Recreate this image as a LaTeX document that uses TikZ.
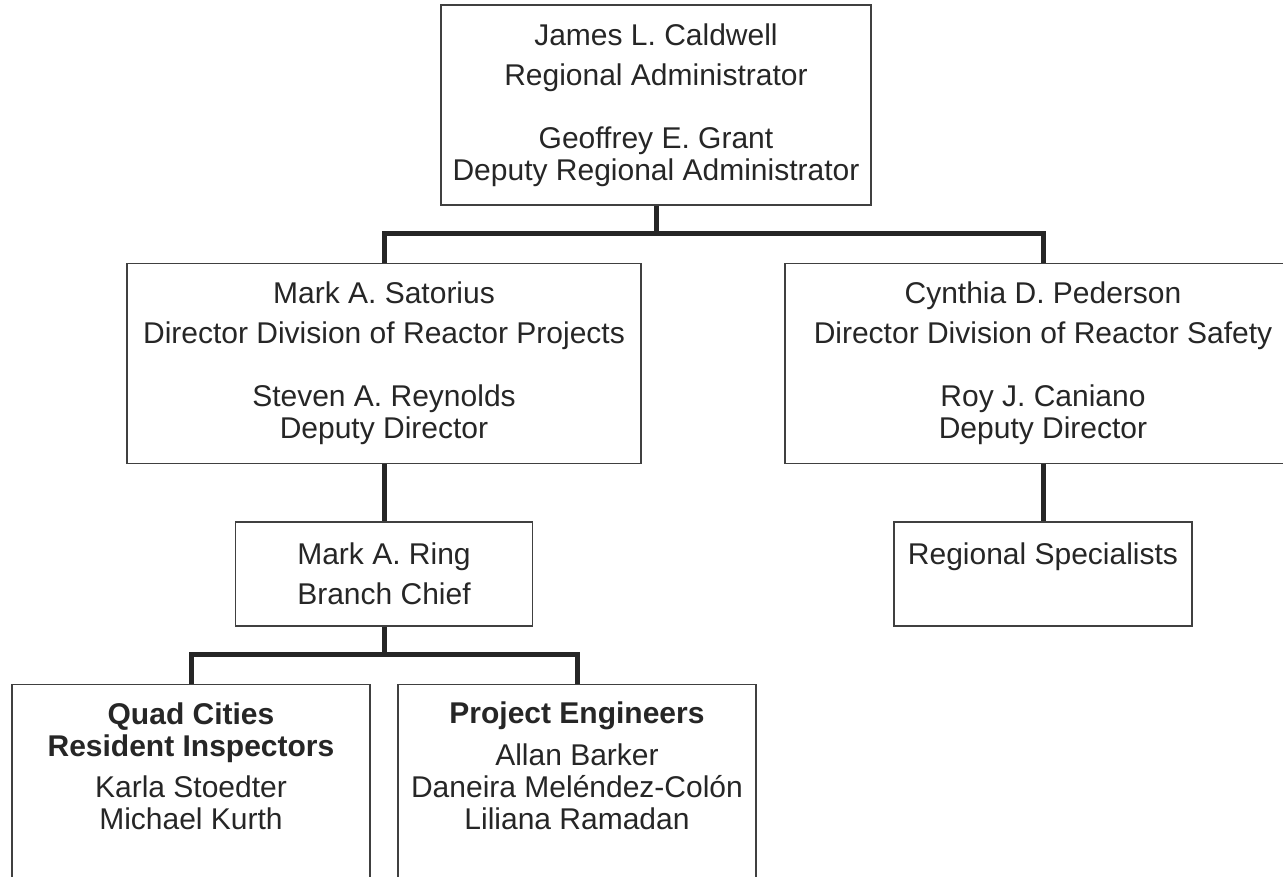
\documentclass[tikz,border=0pt]{standalone}
\usepackage{fontspec}
\setmainfont{Liberation Sans}
\usetikzlibrary{positioning}
\newcommand{\orgfont}{\fontsize{30}{32}\selectfont}
\tikzset{
	box/.style={
		rectangle, draw=black!75, line width=1.5pt,
		align=center, inner sep=0pt,
		font=\orgfont, text=black!85,
	},
	openbox/.style={
		box, minimum width=358pt,
		text height=145pt, text depth=125pt,
	},
	conn/.style={
		draw=black!85, line width=5pt,
	}
}

\begin{document}
\begin{tikzpicture}[x=1pt, y=-1pt]
				\useasboundingbox (0,0) rectangle (1283,876);
				\clip (0,0) rectangle (1283,876);
				
				\node [box, minimum width=430pt, minimum height=200pt] (admin) at (656,105)
					{James L. Caldwell\\[8pt]Regional Administrator\\[31pt]Geoffrey E. Grant\\Deputy Regional Administrator};
				\node [box, minimum width=514pt, minimum height=200pt, below=57pt of admin, xshift=-272pt] (drp)
					{Mark A. Satorius\\[8pt]Director Division of Reactor Projects\\[31pt]Steven A. Reynolds\\Deputy Director};
				\node [box, minimum width=516pt, minimum height=200pt, below=57pt of admin, xshift=387pt] (drs)
					{Cynthia D. Pederson\\[8pt]Director Division of Reactor Safety\\[31pt]Roy J. Caniano\\Deputy Director};
				\node [box, minimum width=297pt, minimum height=104pt, below=57pt of drp] (branch)
					{Mark A. Ring\\[8pt]Branch Chief};
				\node [box, minimum width=298pt, minimum height=104pt, below=57pt of drs] (spec)
					{Regional Specialists\\[8pt]\mbox{}};
				\node [openbox, below=57pt of branch, xshift=-193pt] (resident)
					{\textbf{Quad Cities}\\\textbf{Resident Inspectors}\\[9pt]Karla Stoedter\\Michael Kurth};
				\node [openbox, below=57pt of branch, xshift=193pt] (engineers)
					{\textbf{Project Engineers}\\[10pt]Allan Barker\\Daneira Meléndez-Colón\\Liliana Ramadan};
				
				\path [conn] (admin.south) -- ++(0,28) coordinate (split1);
				\path [conn] (drp.north) |- (split1) -| (drs.north);
				\path [conn] (drp.south) -- (branch.north);
				\path [conn] (drs.south) -- (spec.north);
				\path [conn] (branch.south) -- ++(0,28) coordinate (split2);
				\path [conn] (resident.north) |- (split2) -| (engineers.north);
\end{tikzpicture}
\end{document}
